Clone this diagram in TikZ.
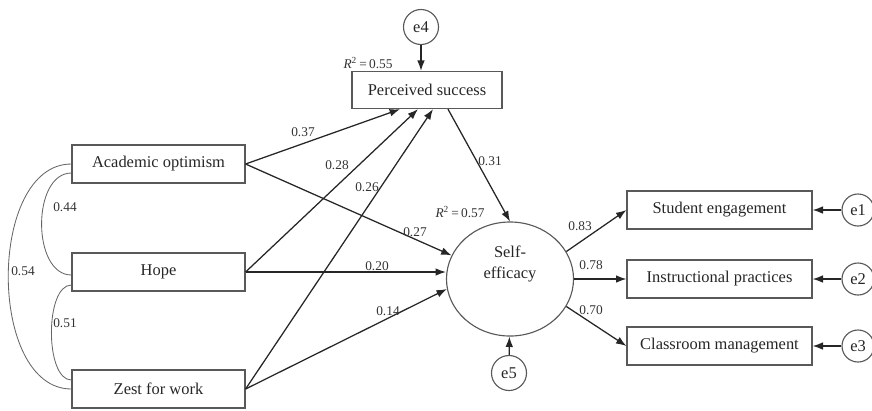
\documentclass[tikz,border=0pt]{standalone}
\usepackage{fontspec}
\setmainfont{Liberation Serif}
\usetikzlibrary{shapes.geometric,arrows.meta}

\tikzset{
  box/.style={draw=black!65, line width=0.8pt, minimum height=0.95cm, text=black!85,
    font=\fontsize{11.7}{14}\selectfont},
  err/.style={circle, draw=black!65, line width=0.8pt, minimum size=0.8cm, inner sep=0pt,
    text=black!85, font=\fontsize{11.7}{14}\selectfont},
  coef/.style={font=\fontsize{9.5}{11}\selectfont, text=black!80, inner sep=1pt},
  eff/.style={-{Latex[length=2.6mm,width=1.9mm]}, line width=0.9pt, draw=black!85},
  cov/.style={line width=0.6pt, draw=black!60},
}

\begin{document}
\begin{tikzpicture}[x=0.025cm, y=-0.025cm]
   \useasboundingbox (0,0) rectangle (872,410);
   % exogenous variables
   \node[box, minimum width=4.325cm] (ao) at (158.5,164) {Academic optimism};
   \node[box, minimum width=4.325cm] (hope) at (158.5,272) {Hope};
   \node[box, minimum width=4.325cm] (zest) at (158.5,389) {Zest for work};
   % mediator and self-efficacy
   \node[box, minimum width=3.75cm, minimum height=0.93cm] (ps) at (427,90) {Perceived success};
   \node[ellipse, draw=black!65, line width=0.8pt, minimum width=3.175cm, minimum height=2.85cm] (se) at (510,279) {};
   \node[align=center, text=black!85, font=\fontsize{11.7}{15.6}\selectfont] (setext) at (510,264) {Self-\\efficacy};
   % outcomes
   \node[box, minimum width=4.625cm] (stu) at (719.5,210) {Student engagement};
   \node[box, minimum width=4.625cm] (ins) at (719.5,279) {Instructional practices};
   \node[box, minimum width=4.625cm] (cls) at (719.5,346) {Classroom management};
   % error terms
   \node[err] (e1) at (858,210) {e1};
   \node[err] (e2) at (858,279) {e2};
   \node[err] (e3) at (858,346) {e3};
   \node[err, minimum size=0.875cm] (e4) at (421,27) {e4};
   \node[err, minimum size=0.875cm] (e5) at (509,373) {e5};

   % paths
   \draw[eff] (ao.east) -- ([xshift=-0.675cm]ps.south);
   \draw[eff] (hope.east) -- ([xshift=-0.225cm]ps.south);
   \draw[eff] (zest.east) -- ([xshift=0.15cm]ps.south);
   \draw[eff] ([xshift=0.525cm]ps.south) -- (se.north);
   \draw[eff] (ao.east) -- (se.158);
   \draw[eff] (hope.east) -- (se.west |- hope.east);
   \draw[eff] (zest.east) -- (se.189);
   \draw[eff] (se.26) -- (stu.west);
   \draw[eff] (se.east) -- (ins.west);
   \draw[eff] (se.-26) -- (cls.west);
   \draw[eff] (e1) -- (stu);
   \draw[eff] (e2) -- (ins);
   \draw[eff] (e3) -- (cls);
   \draw[eff] (e4) -- (e4 |- ps.north);
   \draw[eff] (e5) -- (se);

   % correlations
   \draw[cov] (ao.west) to[out=180, in=180, looseness=0.96] (zest.west);
   \draw[cov] ([yshift=-0.225cm]ao.west) to[out=180, in=180, looseness=1.0] ([yshift=-0.075cm]hope.west);
   \draw[cov] ([yshift=-0.325cm]hope.west) to[out=180, in=180, looseness=0.72] ([yshift=0.225cm]zest.west);

   % coefficients
   \node[coef] (c37) at (303,132) {0.37};
   \node[coef] (c28) at (337,165) {0.28};
   \node[coef] (c26) at (367,187) {0.26};
   \node[coef] (c27) at (415,232) {0.27};
   \node[coef] (c20) at (377,266) {0.20};
   \node[coef] (c14) at (388,311) {0.14};
   \node[coef] (c31) at (490,161) {0.31};
   \node[coef] (c83) at (580,226) {0.83};
   \node[coef] (c78) at (591,265) {0.78};
   \node[coef] (c70) at (591,310) {0.70};
   \node[coef] (c44) at (65,207) {0.44};
   \node[coef] (c54) at (23,271) {0.54};
   \node[coef] (c51) at (65,323) {0.51};
   \node[coef] (r55) at (368,63) {\textit{R}\textsuperscript{2}\,=\,0.55};
   \node[coef] (r57) at (460,212) {\textit{R}\textsuperscript{2}\,=\,0.57};
\end{tikzpicture}
\end{document}
